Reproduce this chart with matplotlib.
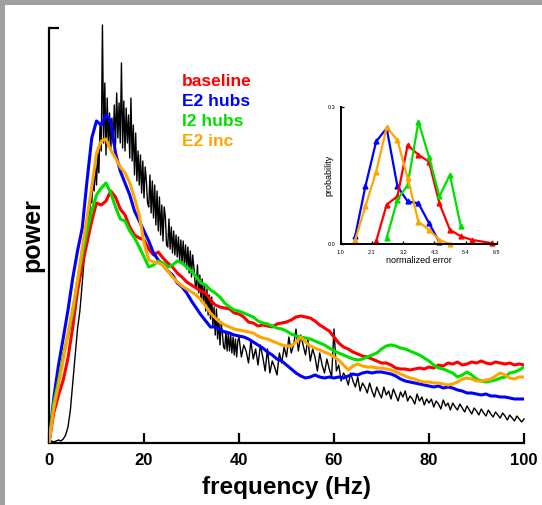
import numpy as np
import matplotlib
matplotlib.use("Agg")
from matplotlib import pyplot as plt
from matplotlib.patches import Rectangle

plt.rcParams['font.family'] = ['Liberation Sans', 'DejaVu Sans']

# ---- main panel: power spectra (arbitrary units) ----
# black trace: 0.5 Hz steps, 0.25 Hz in the busy 8-40 Hz stretch
freq_fine = np.concatenate([np.arange(0, 8, 0.5),
                            np.arange(8, 40, 0.25),
                            np.arange(40, 100.5, 0.5)])
freq = np.arange(0, 101, 1)            # colored traces, 1 Hz steps

black_low = [0, 2, 1, 2, 3, 2, 4, 8, 16, 33, 60, 86, 114, 132, 160, 190]

black_mid = [
    210, 228, 222, 248, 240, 262, 252, 280,
    258, 290, 270, 320, 292, 418, 300, 360,
    288, 345, 296, 330, 292, 325, 300, 338,
    298, 350, 305, 340, 300, 380, 295, 342,
    292, 335, 300, 328, 285, 345, 282, 318,
    268, 310, 262, 292, 258, 288, 250, 282,
    245, 276, 262, 240, 236, 268, 230, 262,
    225, 258, 218, 252, 212, 246, 208, 238,
    202, 236, 226, 198, 196, 224, 194, 216,
    190, 212, 188, 208, 186, 206, 182, 203,
    180, 202, 178, 198, 174, 196, 170, 192,
    166, 188, 176, 160, 154, 178, 150, 168,
    142, 164, 140, 158, 132, 154, 128, 148,
    124, 146, 116, 136, 108, 134, 104, 124,
    98, 120, 110, 96, 94, 112, 92, 110,
    92, 108, 90, 106, 88, 104, 86, 102,
]

black_high = [
    106, 86, 98, 92, 80, 102, 84, 94, 78, 98,
    86, 72, 94, 70, 82, 76, 68, 90, 80, 96,
    86, 106, 90, 98, 114, 92, 108, 98, 88, 104,
    82, 94, 86, 72, 90, 78, 70, 84, 74, 66,
    114, 72, 78, 62, 70, 66, 58, 70, 62, 56,
    66, 52, 60, 56, 50, 60, 52, 46, 56, 50,
    45, 56, 48, 52, 44, 54, 48, 42, 51, 46,
    52, 42, 47, 44, 39, 49, 42, 46, 38, 44,
    40, 44, 36, 42, 39, 34, 43, 37, 40, 33,
    40, 36, 33, 39, 35, 31, 37, 33, 29, 35,
    32, 28, 34, 30, 27, 33, 29, 26, 31, 28,
    25, 30, 27, 23, 28, 25, 22, 27, 24, 21,
    24,
]

black_power = black_low + black_mid + black_high

baseline = [
    0, 30, 48, 63, 85, 116, 152, 178, 200, 222,
    240, 238, 242, 252, 246, 234, 228, 216, 208, 205,
    203, 194, 188, 191, 185, 180, 176, 170, 166, 161,
    158, 155, 152, 150, 143, 138, 136, 135, 134, 130,
    129, 126, 121, 120, 117, 118, 117, 116, 119, 120,
    121, 123, 126, 127, 126, 125, 122, 118, 115, 112,
    106, 100, 96, 94, 91, 89, 87, 86, 84, 82,
    80, 80, 78, 75, 74, 74, 73, 74, 75, 74,
    76, 75, 78, 77, 80, 79, 81, 78, 79, 81,
    80, 82, 80, 79, 81, 80, 79, 80, 78, 79,
    78,
]

e2_hubs = [
    0, 45, 78, 105, 133, 165, 192, 215, 262, 305,
    322, 318, 328, 322, 290, 272, 260, 248, 232, 222,
    212, 202, 190, 183, 178, 172, 168, 160, 156, 150,
    142, 135, 128, 122, 116, 116, 113, 111, 110, 108,
    107, 106, 104, 101, 98, 95, 91, 88, 84, 82,
    78, 74, 70, 67, 65, 66, 68, 66, 65, 66,
    65, 66, 65, 67, 69, 68, 70, 71, 70, 71,
    71, 70, 69, 67, 64, 62, 61, 60, 59, 58,
    57, 56, 57, 55, 56, 55, 53, 52, 50, 50,
    49, 48, 49, 47, 47, 46, 46, 45, 44, 44,
    44,
]

i2_hubs = [
    0, 40, 62, 88, 108, 130, 162, 188, 212, 232,
    248, 255, 260, 250, 236, 224, 222, 212, 205, 196,
    186, 176, 178, 182, 180, 176, 178, 182, 180, 176,
    172, 166, 160, 158, 153, 150, 146, 140, 136, 133,
    132, 130, 128, 126, 122, 120, 119, 117, 115, 114,
    112, 109, 107, 106, 105, 104, 102, 100, 98, 95,
    92, 90, 88, 86, 84, 83, 84, 86, 88, 90,
    94, 97, 98, 97, 95, 94, 92, 90, 88, 85,
    82, 78, 75, 74, 72, 70, 66, 68, 71, 68,
    64, 62, 61, 62, 63, 65, 66, 70, 71, 73,
    76,
]

e2_inc = [
    0, 35, 58, 84, 110, 135, 162, 195, 225, 256,
    290, 302, 304, 293, 285, 276, 270, 260, 245, 228,
    200, 183, 181, 180, 178, 172, 166, 161, 157, 154,
    151, 148, 143, 137, 130, 125, 121, 118, 116, 114,
    113, 112, 111, 110, 107, 105, 104, 102, 100, 98,
    97, 97, 101, 106, 101, 97, 95, 93, 91, 89,
    86, 83, 78, 73, 77, 79, 77, 76, 76, 75,
    75, 74, 73, 71, 69, 67, 65, 64, 62, 61,
    61, 60, 60, 59, 58, 59, 61, 64, 65, 64,
    62, 62, 63, 64, 67, 70, 68, 65, 64, 66,
    66,
]

series_names = ["baseline", "E2 hubs", "I2 hubs", "E2 inc"]
series_colors = ["#ff0000", "#0000ff", "#00e000", "#ffa500"]
series_power = [baseline, e2_hubs, i2_hubs, e2_inc]

# ---- inset: error distributions ----
err_blue_x = [1.51, 1.87, 2.25, 2.62, 3.00, 3.36, 3.74, 4.11, 4.48]
err_blue_p = [0.017, 0.126, 0.224, 0.253, 0.126, 0.093, 0.089, 0.046, 0.004]
err_orange_x = [1.51, 1.87, 2.25, 2.62, 3.00, 3.36, 3.74, 4.11, 4.48, 4.85]
err_orange_p = [0.009, 0.082, 0.158, 0.255, 0.227, 0.144, 0.049, 0.031, 0.009, 0.0]
err_red_x = [2.25, 2.62, 3.00, 3.36, 3.74, 4.11, 4.48, 4.85, 5.23, 5.62, 6.32]
err_red_p = [0.006, 0.086, 0.104, 0.216, 0.195, 0.180, 0.089, 0.031, 0.017, 0.009, 0.002]
err_green_x = [2.62, 3.00, 3.36, 3.74, 4.11, 4.48, 4.85, 5.23]
err_green_p = [0.013, 0.097, 0.129, 0.267, 0.191, 0.104, 0.151, 0.040]

inset_xticks = [1.0, 2.1, 3.2, 4.3, 5.4, 6.5]
inset_yticks = [0.0, 0.3]

fig = plt.figure(figsize=(5.42, 5.05), dpi=100)
fig.patch.set_facecolor("white")

ax = fig.add_axes([49 / 542, 62 / 505, 475 / 542, 415 / 505])
ax.plot(freq_fine, black_power, color="black", lw=1.0, zorder=2, clip_on=False)
for name, col, pw in zip(series_names, series_colors, series_power):
    ax.plot(freq, pw, color=col, lw=2.2, zorder=3, solid_joinstyle="round")

ax.set_xlim(0, 100)
ax.set_ylim(0, 415)
for s in ["top", "right"]:
    ax.spines[s].set_visible(False)
for s in ["left", "bottom"]:
    ax.spines[s].set_linewidth(1.6)
ax.set_xticks([0, 20, 40, 60, 80, 100])
ax.tick_params(axis="x", direction="in", length=7, width=1.6, pad=7,
               labelsize=12)
for lab in ax.get_xticklabels():
    lab.set_fontweight("bold")
ax.set_yticks([415])
ax.set_yticklabels([])
ax.tick_params(axis="y", direction="in", length=7, width=1.6)
ax.set_xlabel("frequency (Hz)", fontsize=17.5, fontweight="bold", labelpad=6)
ax.set_ylabel("power", fontsize=18, fontweight="bold", labelpad=0)

# legend as colored text
for i, (name, col) in enumerate(zip(series_names, series_colors)):
    ax.text(0.28, 0.870 - i * 0.0475, name, color=col, fontsize=12.5,
            fontweight="bold", transform=ax.transAxes, va="center", ha="left")

# inset
ins = fig.add_axes([340.7 / 542, 261 / 505, 156 / 542, 137.3 / 505])
ins.patch.set_alpha(0)
ins.plot(err_blue_x, err_blue_p, color="#0000ff", lw=1.6, marker="^", ms=3.5, clip_on=False)
ins.plot(err_red_x, err_red_p, color="#ff0000", lw=1.6, marker="^", ms=3.5, clip_on=False)
ins.plot(err_green_x, err_green_p, color="#00e000", lw=1.6, marker="^", ms=3.5, clip_on=False)
ins.plot(err_orange_x, err_orange_p, color="#ffa500", lw=1.6, marker="^", ms=3.5, clip_on=False)
ins.set_xlim(1.0, 6.5)
ins.set_ylim(0, 0.3)
for s in ["top", "right"]:
    ins.spines[s].set_visible(False)
for s in ["left", "bottom"]:
    ins.spines[s].set_linewidth(1.4)
ins.set_xticks(inset_xticks)
ins.set_xticklabels(["%.1f" % v for v in inset_xticks])
ins.set_yticks(inset_yticks)
ins.set_yticklabels(["%.1f" % v for v in inset_yticks])
ins.tick_params(direction="in", length=2, width=1, labelsize=4, pad=4)
ins.set_xlabel("normalized error", fontsize=6.5, labelpad=1)
ins.set_ylabel("probability", fontsize=6.5, labelpad=-4)

# gray frame on top and left edges
fig.patches.append(Rectangle((0, 1 - 5 / 505), 1, 5 / 505, transform=fig.transFigure,
                             facecolor="#a0a0a0", edgecolor="none"))
fig.patches.append(Rectangle((0, 0), 5 / 542, 1, transform=fig.transFigure,
                             facecolor="#a0a0a0", edgecolor="none"))

fig.savefig("out.png", dpi=100)
